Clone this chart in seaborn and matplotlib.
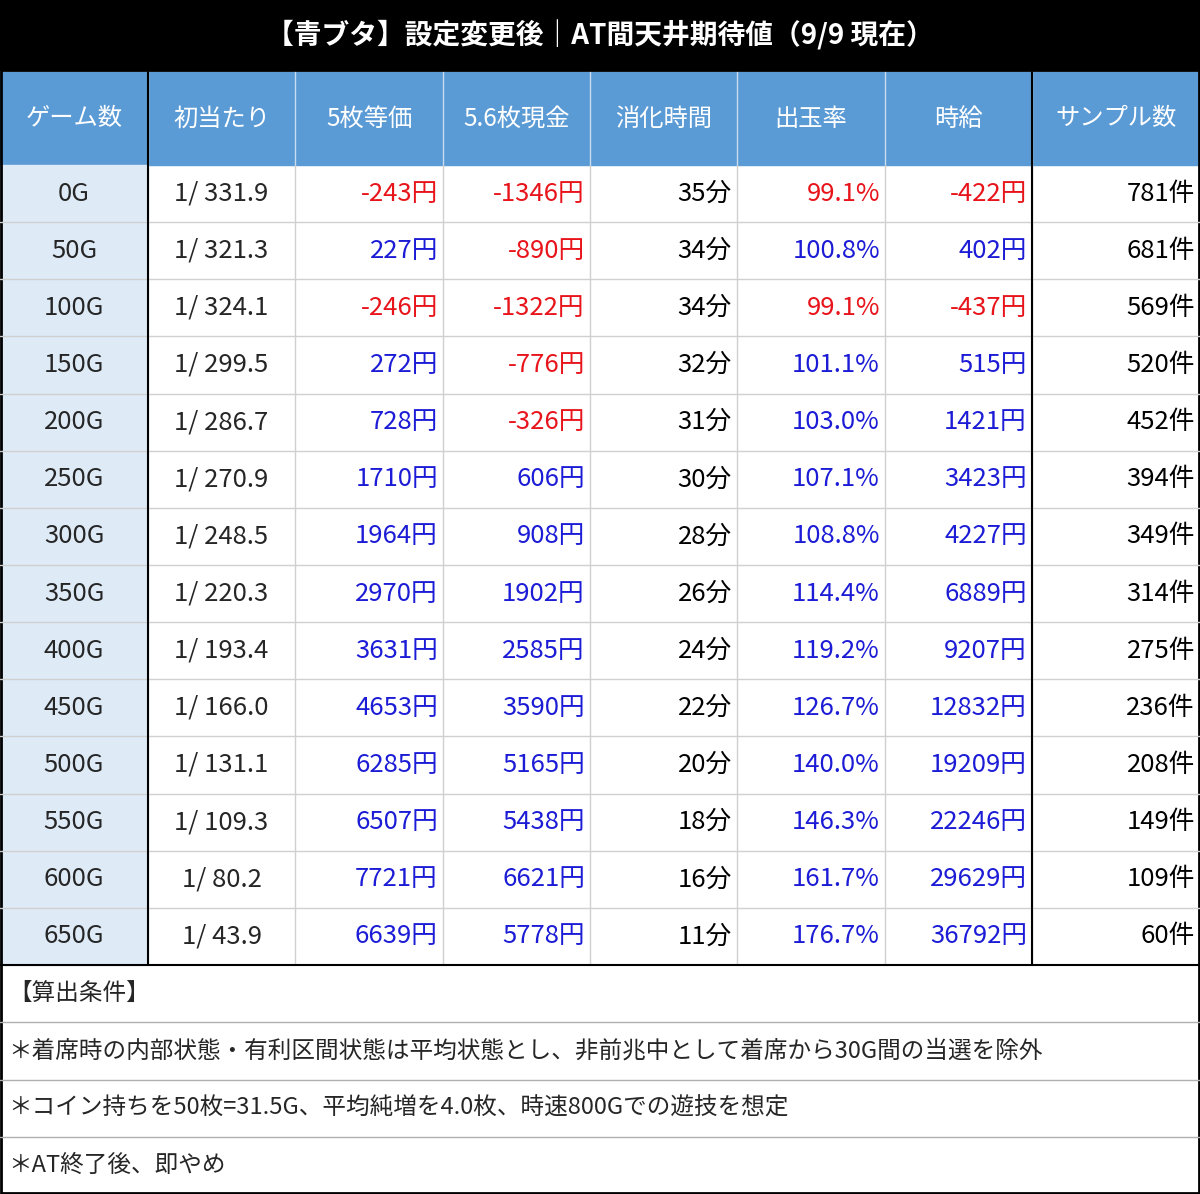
import matplotlib
matplotlib.use("Agg")
import matplotlib.pyplot as plt
import seaborn as sns
from matplotlib.patches import Rectangle

sns.set_style("white")
plt.rcParams['font.family'] = ['Noto Sans CJK JP', 'DejaVu Sans']

title = "【青ブタ】設定変更後｜AT間天井期待値（9/9 現在）"
headers = ["ゲーム数", "初当たり", "5枚等価", "5.6枚現金", "消化時間", "出玉率", "時給", "サンプル数"]
games = ["0G", "50G", "100G", "150G", "200G", "250G", "300G", "350G", "400G", "450G", "500G", "550G", "600G", "650G"]
first_hit = [331.9, 321.3, 324.1, 299.5, 286.7, 270.9, 248.5, 220.3, 193.4, 166.0, 131.1, 109.3, 80.2, 43.9]
eq5 = [-243, 227, -246, 272, 728, 1710, 1964, 2970, 3631, 4653, 6285, 6507, 7721, 6639]
cash56 = [-1346, -890, -1322, -776, -326, 606, 908, 1902, 2585, 3590, 5165, 5438, 6621, 5778]
minutes = [35, 34, 34, 32, 31, 30, 28, 26, 24, 22, 20, 18, 16, 11]
payout = [99.1, 100.8, 99.1, 101.1, 103.0, 107.1, 108.8, 114.4, 119.2, 126.7, 140.0, 146.3, 161.7, 176.7]
hourly = [-422, 402, -437, 515, 1421, 3423, 4227, 6889, 9207, 12832, 19209, 22246, 29629, 36792]
samples = [781, 681, 569, 520, 452, 394, 349, 314, 275, 236, 208, 149, 109, 60]
notes = ["【算出条件】",
         "＊着席時の内部状態・有利区間状態は平均状態とし、非前兆中として着席から30G間の当選を除外",
         "＊コイン持ちを50枚=31.5G、平均純増を4.0枚、時速800Gでの遊技を想定",
         "＊AT終了後、即やめ"]

W, H = 1200, 1194
fig = plt.figure(figsize=(12, 11.94), dpi=100)
ax = fig.add_axes([0, 0, 1, 1])
ax.set_xlim(0, W)
ax.set_ylim(H, 0)
ax.axis("off")

RED, BLUE = "#e8141b", "#1c1cd6"
col_x = [0, 148, 295, 443, 590, 737, 885, 1032, 1200]
title_h, head_top, head_bot = 70, 72, 165
row_h = (965 - head_bot) / len(games)
fs = 18.5

# title bar
ax.add_patch(Rectangle((0, 0), W, title_h, color="black"))
ax.text(W / 2, title_h / 2, title, color="white", fontsize=20, fontweight="bold",
        ha="center", va="center")

# header
ax.add_patch(Rectangle((0, head_top), W, head_bot - head_top, color="#5b9bd5"))
for i, h in enumerate(headers):
    ax.text((col_x[i] + col_x[i + 1]) / 2, (head_top + head_bot) / 2, h,
            color="white", fontsize=17.5, ha="center", va="center")
for x in col_x[1:-1]:
    ax.plot([x, x], [head_top, head_bot], color="#c9dcef", lw=1)

# body
ax.add_patch(Rectangle((0, head_bot), col_x[1], row_h * len(games), color="#deebf7"))
def col(v):
    return RED if v < 0 else BLUE
for r in range(len(games)):
    y0 = head_bot + r * row_h
    yc = y0 + row_h / 2
    if r > 0:
        ax.plot([0, W], [y0, y0], color="#d0d0d0", lw=1)
    ax.text(col_x[1] / 2, yc, games[r], fontsize=fs, ha="center", va="center")
    ax.text((col_x[1] + col_x[2]) / 2, yc, f"1/ {first_hit[r]:.1f}", fontsize=fs, ha="center", va="center")
    cells = [(f"{eq5[r]}円", col(eq5[r])), (f"{cash56[r]}円", col(cash56[r])),
             (f"{minutes[r]}分", "black"),
             (f"{payout[r]:.1f}%", RED if payout[r] < 100 else BLUE),
             (f"{hourly[r]}円", col(hourly[r])), (f"{samples[r]}件", "black")]
    for c, (txt, colr) in enumerate(cells):
        ax.text(col_x[c + 3] - 5, yc, txt, fontsize=fs, color=colr, ha="right", va="center")
for x in col_x[2:-1]:
    ax.plot([x, x], [head_bot, 965], color="#d0d0d0", lw=1)
for x in (col_x[1], col_x[7]):
    ax.plot([x, x], [head_top, 965], color="black", lw=1.5)

# notes
note_h = (H - 965) / len(notes)
ax.plot([0, W], [965, 965], color="black", lw=1.5)
for i, n in enumerate(notes):
    y0 = 965 + i * note_h
    if i > 0:
        ax.plot([0, W], [y0, y0], color="#b0b0b0", lw=1)
    ax.text(8, y0 + note_h / 2, n, fontsize=17, ha="left", va="center")

ax.add_patch(Rectangle((1, title_h), W - 2, H - title_h - 1, fill=False, ec="black", lw=2))
fig.savefig("out.png", dpi=100)
